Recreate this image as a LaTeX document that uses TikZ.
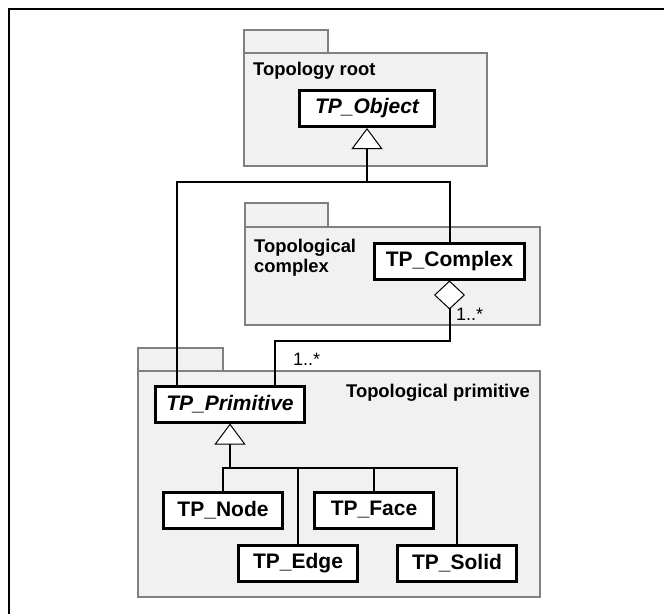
\documentclass[tikz,border=0pt]{standalone}
\usepackage{fontspec}
\setmainfont{Liberation Sans}
\usetikzlibrary{arrows.meta}
\definecolor{PkgFill}{RGB}{241, 241, 241}
\definecolor{PkgLine}{RGB}{128, 128, 128}

\begin{document}
\begin{tikzpicture}[
    x=1pt, y=-1pt,
    package/.style={fill=PkgFill, draw=PkgLine, line width=1.6pt},
    class box/.style={draw=black, fill=white, line width=3pt, inner sep=0pt, minimum height=36pt, font=\fontsize{21}{25}\selectfont\bfseries},
    abstract/.style={font=\fontsize{21}{25}\selectfont\bfseries\itshape},
    pkg label/.style={inner sep=0pt, align=left, font=\fontsize{18.4}{20}\selectfont\bfseries},
    mult/.style={inner sep=0pt, font=\fontsize{18}{20}\selectfont},
    link/.style={line width=2pt},
    generalization/.style={link, -{Triangle[fill=white, line width=1pt, length=21pt, width=31pt]}},
    aggregation/.style={link, -{Diamond[fill=white, line width=1pt, length=29pt, width=31pt]}},
    frame/.style={line width=2.5pt}
    ]
    \useasboundingbox (0,0) rectangle (664,614);

    % outer frame
    \draw[frame] (664,9) -| (9,614);

    % packages: tab and body
    \foreach \xa/\xt/\xb/\yt/\ya/\yb in {244/328/487/30/53/166, 245/328/540/203/227/325, 138/223/540/348/371/597} {
        \draw[package] (\xa,\yt) rectangle (\xt,\ya);
        \draw[package] (\xa,\ya) rectangle (\xb,\yb);
    }
    \node[pkg label, anchor=base west] (root label) at (253,75) {Topology root};
    \node[pkg label, anchor=base west] (complex label) at (254,272) {Topological\\complex};
    \node[pkg label, anchor=base east] (primitive label) at (530,397) {Topological primitive};

    % classes
    \node[class box, abstract, minimum width=135pt] (tp object) at (367,108.5) {TP\_Object};
    \node[class box, minimum width=150pt] (tp complex) at (449.5,261) {TP\_Complex};
    \node[class box, abstract, minimum width=149pt] (tp primitive) at (230,404) {TP\_Primitive};
    \node[class box, minimum width=119pt] (tp node) at (223,510) {TP\_Node};
    \node[class box, minimum width=119pt] (tp face) at (374,510) {TP\_Face};
    \node[class box, minimum width=119pt] (tp edge) at (298,563) {TP\_Edge};
    \node[class box, minimum width=119pt] (tp solid) at (457,563) {TP\_Solid};

    % generalization to TP_Object
    \coordinate (joint root) at (367,182);
    \draw[link] ([xshift=-53pt]tp primitive.north) |- (joint root) -| (tp complex.north);
    \draw[generalization] (joint root) -- (tp object.south);

    % aggregation
    \draw[aggregation] ([xshift=45pt]tp primitive.north) |- ([yshift=-60pt]tp complex.south) -- (tp complex.south);
    \node[mult, anchor=base west] (mult whole) at (456,320) {1..*};
    \node[mult, anchor=base west] (mult part) at (293,365) {1..*};

    % generalization to TP_Primitive
    \coordinate (joint primitive) at (230,468);
    \draw[generalization] (joint primitive) -- (tp primitive.south);
    \draw[link] (tp node.north) |- (joint primitive) -| (tp solid.north);
    \draw[link] (tp edge.north) -- (tp edge.north |- joint primitive);
    \draw[link] (tp face.north) -- (tp face.north |- joint primitive);
\end{tikzpicture}
\end{document}
